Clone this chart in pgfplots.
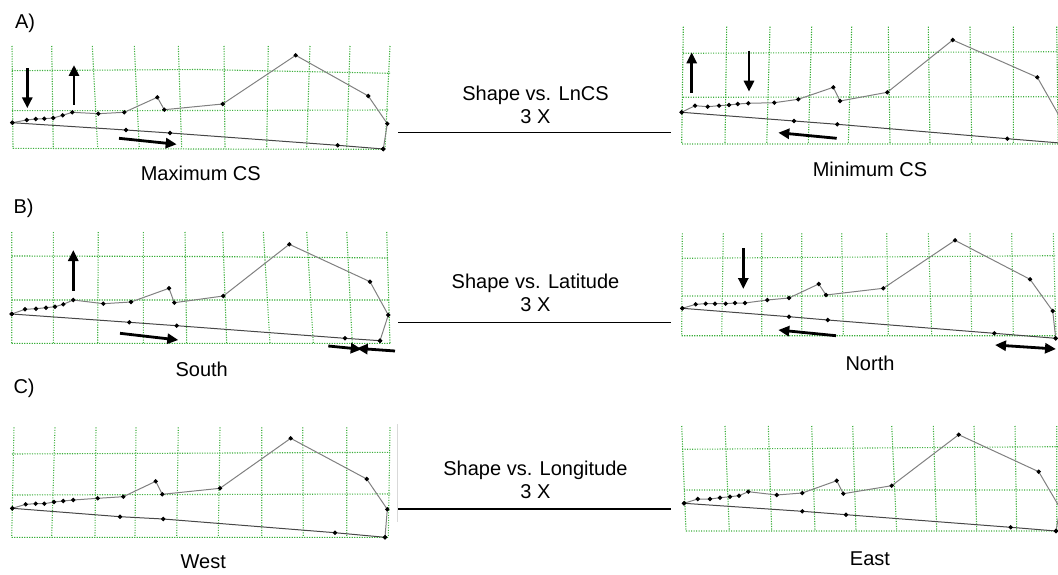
\documentclass[border=0pt]{standalone}
\usepackage{fontspec}
\setmainfont{Liberation Sans}
\usepackage{pgfplots}
\pgfplotsset{compat=1.18}
\usetikzlibrary{arrows.meta}
\newcommand\lab{\fontsize{20}{24}\selectfont}
\definecolor{gridgreen}{RGB}{60,175,60}
\begin{document}
\begin{tikzpicture}
\useasboundingbox (0,0) rectangle (1058pt,575pt);
\begin{axis}[
  at={(0,0)}, anchor=south west,
  scale only axis, width=1058pt, height=575pt,
  xmin=0, xmax=1058, ymin=0, ymax=575, y dir=reverse,
  hide axis, unbounded coords=jump,
  grd/.style={color=gridgreen, line width=1.1pt, dash pattern=on 1.1pt off 1.4pt, mark=none},
  upl/.style={color=black!50, line width=1pt, mark=*, mark size=1.6pt, mark options={solid, fill=black, draw=black}},
  lowl/.style={color=black!72, line width=1pt, mark=*, mark size=1.6pt, mark options={solid, fill=black, draw=black}},
  arr/.style={black, line width=2.8pt, mark=none, -{Triangle[length=11pt,width=10pt]}},
  darr/.style={black, line width=2.8pt, mark=none, {Triangle[length=11pt,width=10pt]}-{Triangle[length=11pt,width=10pt]}},
  ctr/.style={black, line width=1.6pt, mark=none},
]
% ================= A left =================
\addplot[grd] coordinates {(12,46)(13,148.5) (nan,nan) (51.7,46)(53.3,148.5) (nan,nan) (92.3,46)(97.7,148.5) (nan,nan) (134.3,46)(139.3,148.5) (nan,nan) (178.3,46)(181.7,148.5) (nan,nan) (224,46)(225,148.5) (nan,nan) (268.3,46)(266.7,148.5) (nan,nan) (310,46)(306.7,148.5) (nan,nan) (350,46)(346.7,148.5) (nan,nan) (390,46)(385,148.5)};
\addplot[grd] coordinates {(12,70.7)(200,69.5)(390,73.3) (nan,nan) (12,110.7)(200,110.5)(388,110) (nan,nan) (13,148.3)(200,149)(385,149.3)};
\addplot[upl] coordinates {(12.3,122.7) (26.7,120) (35.7,119) (44.3,118.7) (53.3,118) (62.7,115.3) (72.3,112.3) (98.3,113.7) (124.3,112.3) (157.3,97.3) (164.3,109.7) (222.7,104) (295.7,55.3) (368.3,96) (387.3,123.7) (383.3,149)};
\addplot[lowl] coordinates {(383.3,149) (337.7,145.3) (170,133) (126,130) (12.3,122.7)};
\addplot[arr] coordinates {(27.3,68.3) (27.3,108.3)};
\addplot[arr] coordinates {(74,105) (74,65)};
\addplot[arr] coordinates {(119,138.3) (176.7,144.3)};
% ================= A right =================
\addplot[grd] coordinates {(683.3,26.7)(681.7,144) (nan,nan) (726.7,26.7)(725,144) (nan,nan) (770,26.7)(766.7,144) (nan,nan) (811.7,26.7)(808.3,144) (nan,nan) (851.7,26.7)(848.3,144) (nan,nan) (888.3,26.7)(890,144) (nan,nan) (928.3,26.7)(930,144) (nan,nan) (970,26.7)(971.7,144) (nan,nan) (1013.3,26.7)(1013.3,144) (nan,nan) (1056.7,26.7)(1058.3,144)};
\addplot[grd] coordinates {(683,53.3)(870,52.5)(1058,51.7) (nan,nan) (683,97.3)(1058,96.7) (nan,nan) (682,144)(1058,144)};
\addplot[upl] coordinates {(681.7,112.3) (695,105.7) (707.7,106.7) (719,105.7) (729,105) (737.7,104) (748.3,103.3) (774.3,102.7) (798.3,99.3) (833.3,87.3) (840,101) (887.3,92.3) (952.7,40) (1037.3,77.3) (1061,119) (1060,143)};
\addplot[lowl] coordinates {(1060,143) (1007.3,138.7) (837.3,124.3) (794,121) (681.7,112.3)};
\addplot[arr] coordinates {(691.7,92.7) (691.7,52.3)};
\addplot[arr] coordinates {(749,50.7) (749,91.7)};
\addplot[arr] coordinates {(836.7,138.3) (778.3,132.7)};
% ================= B left =================
\addplot[grd] coordinates {(11.7,232)(11.7,343.3) (nan,nan) (53.3,232)(53.3,343.3) (nan,nan) (98.3,232)(97.7,343.3) (nan,nan) (143.3,232)(143.3,343.3) (nan,nan) (185,232)(186.7,343.3) (nan,nan) (222.7,232)(226.7,343.3) (nan,nan) (263.3,232)(270,343.3) (nan,nan) (306.7,232)(313.3,343.3) (nan,nan) (346.7,232)(352.3,343.3) (nan,nan) (386.7,232)(390,343.3)};
\addplot[grd] coordinates {(11.7,256)(200,256.5)(388,258) (nan,nan) (11.7,300)(388,300) (nan,nan) (11.7,343.3)(390,343.3)};
\addplot[upl] coordinates {(11.7,314) (25,309.3) (36,308.7) (46,307.7) (55,306.7) (63.3,304.3) (73.3,300) (103.3,303.7) (131,302) (169,288.3) (174.3,302.7) (223.3,296) (289.3,244.3) (370,281.7) (388.3,315) (380,340.7)};
\addplot[lowl] coordinates {(380,340.7) (345,338.3) (176.7,325.7) (129.3,322.3) (11.7,314)};
\addplot[arr] coordinates {(73.3,290.7) (73.3,250)};
\addplot[arr] coordinates {(120,333.3) (178.3,340)};
\addplot[arr] coordinates {(328.3,346) (361.7,349.3)};
\addplot[arr] coordinates {(395,351) (356.7,348.3)};
% ================= B right =================
\addplot[grd] coordinates {(682.3,233.3)(681.7,335.7) (nan,nan) (723.3,233.3)(721.7,335.7) (nan,nan) (761.7,233.3)(761.7,335.7) (nan,nan) (801.7,233.3)(801.7,335.7) (nan,nan) (841.7,233.3)(843.3,335.7) (nan,nan) (886.7,233.3)(888.3,335.7) (nan,nan) (928.3,233.3)(931.7,335.7) (nan,nan) (970,233.3)(971.7,335.7) (nan,nan) (1011.7,233.3)(1013.3,335.7) (nan,nan) (1053.3,233.3)(1056,335.7)};
\addplot[grd] coordinates {(682,258.3)(870,257)(1055,255.7) (nan,nan) (682,296)(1055,296) (nan,nan) (681.7,335.7)(1056,335.7)};
\addplot[upl] coordinates {(682.3,308.3) (695.7,304.3) (705.7,303.7) (715,303.7) (725.7,303.7) (735,303) (745,303) (767.3,300) (789,298) (818.7,284) (826,295) (883.3,288.3) (955,240.3) (1030,279.3) (1052.7,311) (1055.7,338.3)};
\addplot[lowl] coordinates {(1055.7,338.3) (994.3,333.3) (827.7,320) (789,316.7) (682.3,308.3)};
\addplot[arr] coordinates {(743.3,248.3) (743.3,289)};
\addplot[arr] coordinates {(836,335.7) (778.3,330)};
\addplot[darr] coordinates {(995,345) (1056,349)};
% ================= C left =================
\addplot[grd] coordinates {(14,427.3)(11.7,537.3) (nan,nan) (55,427.3)(51.7,537.3) (nan,nan) (96,427.3)(95,537.3) (nan,nan) (136,427.3)(135,537.3) (nan,nan) (178.3,427.3)(176.7,537.3) (nan,nan) (220,427.3)(218.3,537.3) (nan,nan) (261.7,427.3)(261.7,537.3) (nan,nan) (302.7,427.3)(303.3,537.3) (nan,nan) (346.7,427.3)(346.7,537.3) (nan,nan) (390,427.3)(388.3,537.3)};
\addplot[grd] coordinates {(12,454)(390,452.3) (nan,nan) (12,495)(390,494) (nan,nan) (11.7,537.3)(388.3,537.3)};
\addplot[upl] coordinates {(12.3,508.3) (25.7,504.3) (35.7,503.7) (44.3,503.7) (54,502) (63.3,501) (73.3,500) (97.7,498.3) (123.3,496.7) (155.7,481.3) (162.3,494.3) (220,488.3) (290.7,438.3) (366.7,479) (387.3,509.3) (385,537.3)};
\addplot[lowl] coordinates {(385,537.3) (335,532.7) (163.3,519) (120,516.7) (12.3,508.3)};
\addplot[color=black!15, line width=0.8pt, mark=none] coordinates {(397,424) (397,522)};
% ================= C right =================
\addplot[grd] coordinates {(681.7,426)(686,531) (nan,nan) (725,426)(729.3,531) (nan,nan) (768.3,426)(771.7,531) (nan,nan) (811.7,426)(815,531) (nan,nan) (852.7,426)(856,531) (nan,nan) (891.7,426)(896.7,531) (nan,nan) (933.3,426)(936.7,531) (nan,nan) (974,426)(976.7,531) (nan,nan) (1015,426)(1016.7,531) (nan,nan) (1056.7,426)(1056.7,531)};
\addplot[grd] coordinates {(682,449.3)(870,448)(1058,446.7) (nan,nan) (684,490)(1058,490) (nan,nan) (686,531)(1058,531)};
\addplot[upl] coordinates {(684,503.3) (697.7,499) (710,499) (720,497.7) (730,496.7) (739,495.7) (748.3,491.7) (776.7,495) (802.3,493) (836.7,480.7) (843.3,493.7) (891.7,485.7) (958.7,434.7) (1038.7,471.7) (1060,508) (1056,531)};
\addplot[lowl] coordinates {(1056,531) (1010.7,527.3) (846,514.7) (802.3,511.3) (684,503.3)};
% ================= centre connectors =================
\addplot[ctr] coordinates {(398,132.5) (671,132.5)};
\addplot[ctr] coordinates {(398,322.5) (671,322.5)};
\addplot[ctr] coordinates {(398,509) (671,509)};
% ================= texts =================
\node[anchor=base west, font=\lab] at (axis cs:11.5,28.3) {A)};
\node[anchor=base west, font=\lab] at (axis cs:10,213.3) {B)};
\node[anchor=base west, font=\lab] at (axis cs:10,393) {C)};
\node[anchor=base, font=\lab] at (axis cs:200.8,180) {Maximum CS};
\node[anchor=base, font=\lab] at (axis cs:870,176.7) {Minimum CS};
\node[anchor=base, font=\lab] at (axis cs:201.7,376) {South};
\node[anchor=base, font=\lab] at (axis cs:870,370) {North};
\node[anchor=base, font=\lab] at (axis cs:203.3,568.3) {West};
\node[anchor=base, font=\lab] at (axis cs:870,565) {East};
\node[anchor=base, font=\lab] at (axis cs:535.5,100.7) {Shape vs. LnCS};
\node[anchor=base, font=\lab] at (axis cs:535.5,123.3) {3 X};
\node[anchor=base, font=\lab] at (axis cs:535.5,288.3) {Shape vs. Latitude};
\node[anchor=base, font=\lab] at (axis cs:535.5,311.7) {3 X};
\node[anchor=base, font=\lab] at (axis cs:535.5,475) {Shape vs. Longitude};
\node[anchor=base, font=\lab] at (axis cs:535.5,498.3) {3 X};
\end{axis}
\end{tikzpicture}
\end{document}
